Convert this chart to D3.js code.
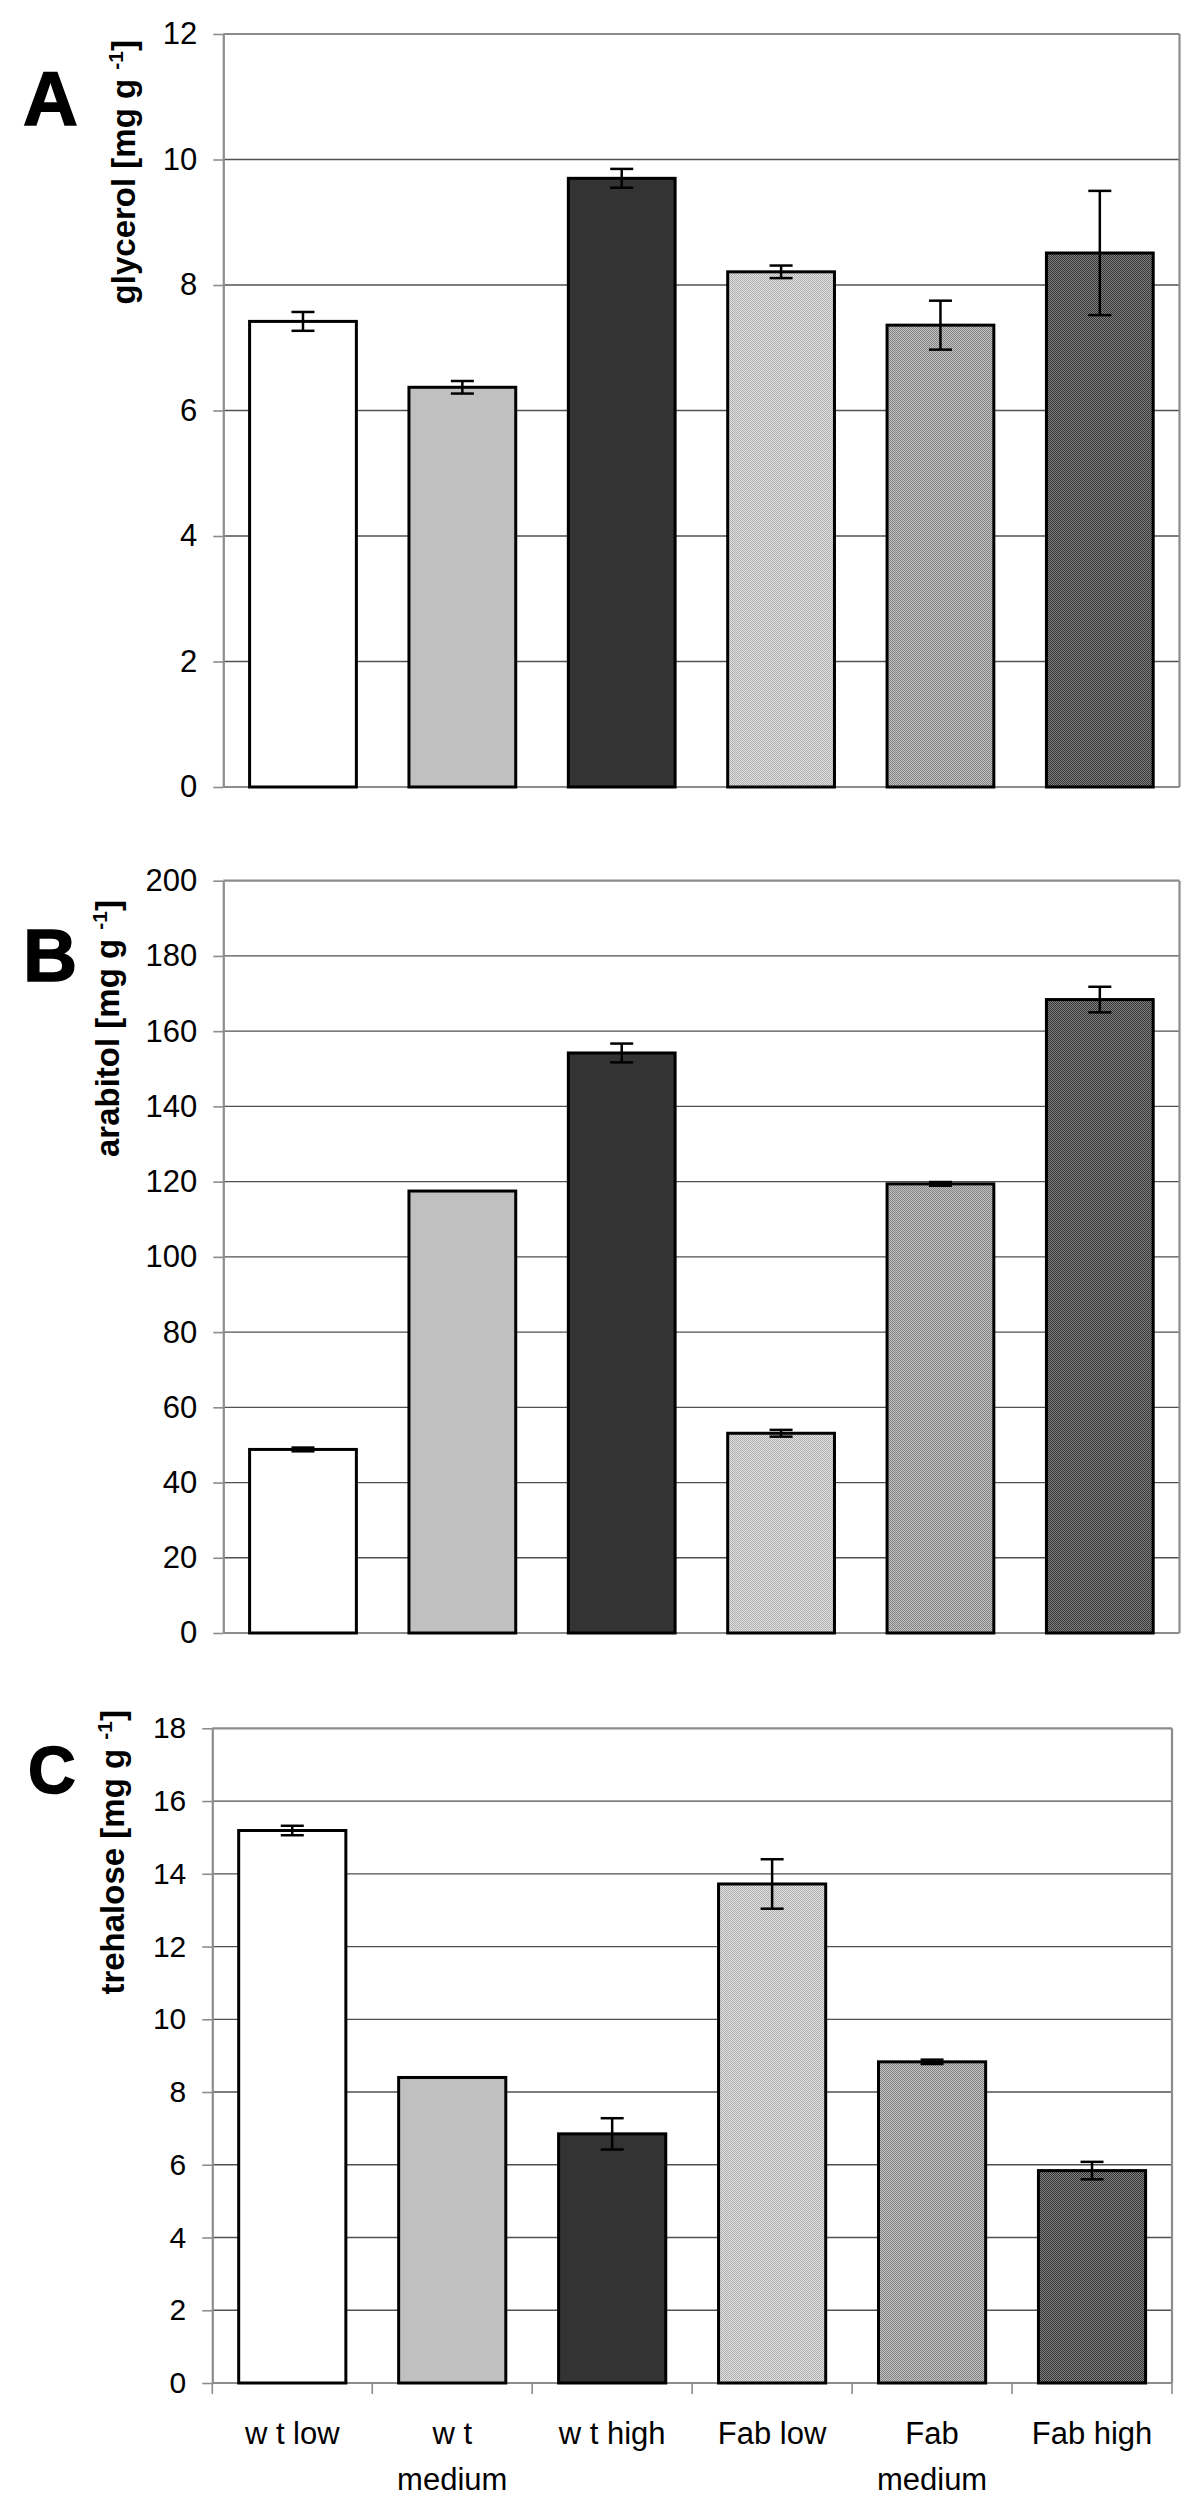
<!DOCTYPE html>
<html>
<head>
<meta charset="utf-8">
<script src="https://cdn.jsdelivr.net/npm/d3@7/dist/d3.min.js"></script>
<style>
  html, body { margin: 0; padding: 0; background: #fff; }
  svg { display: block; }
  text { font-family: "Liberation Sans", Arial, Helvetica, sans-serif; fill: #000; }
</style>
</head>
<body>
<script>
// ---------- data ----------
const categories = ["w t low", "w t medium", "w t high", "Fab low", "Fab medium", "Fab high"];
const categoryLabelLines = [["w t low"], ["w t", "medium"], ["w t high"], ["Fab low"], ["Fab", "medium"], ["Fab high"]];

const glycerol = [7.42, 6.37, 9.70, 8.21, 7.36, 8.51];
const glycerolErr = [0.15, 0.10, 0.15, 0.10, 0.39, 0.99];
const glycerolTicks = [0, 2, 4, 6, 8, 10, 12];

const arabitol = [48.8, 117.5, 154.2, 53.1, 119.4, 168.4];
const arabitolErr = [0.5, 0, 2.5, 0.9, 0.5, 3.4];
const arabitolTicks = [0, 20, 40, 60, 80, 100, 120, 140, 160, 180, 200];

const trehalose = [15.19, 8.40, 6.85, 13.72, 8.83, 5.84];
const trehaloseErr = [0.13, 0, 0.43, 0.68, 0.06, 0.24];
const trehaloseTicks = [0, 2, 4, 6, 8, 10, 12, 14, 16, 18];

const panelLetters = ["A", "B", "C"];
const axisTitles = ["glycerol", "arabitol", "trehalose"];

// ---------- styling / layout ----------
const fills = ["#ffffff", "#c0c0c0", "#333333", "url(#patLow)", "url(#patMed)", "url(#patHigh)"];

const svg = d3.select("body").append("svg")
  .attr("width", 1200).attr("height", 2519)
  .style("background", "#fff");

const defs = svg.append("defs");
function checker(id, a, b) {
  const p = defs.append("pattern").attr("id", id)
    .attr("width", 2).attr("height", 2).attr("patternUnits", "userSpaceOnUse");
  p.append("rect").attr("width", 2).attr("height", 2).attr("fill", a);
  p.append("rect").attr("x", 0).attr("y", 0).attr("width", 1).attr("height", 1).attr("fill", b);
  p.append("rect").attr("x", 1).attr("y", 1).attr("width", 1).attr("height", 1).attr("fill", b);
}
checker("patLow", "#e0e0e0", "#b0b0b0");
checker("patMed", "#c0c0c0", "#848484");
checker("patHigh", "#808080", "#363636");

const layout = [
  { values: glycerol, errs: glycerolErr, ticks: glycerolTicks,
    x0: 223.3, x1: 1179.5, y0: 34, y1: 787,
    letterX: 23, letterY: 125, letterSize: 76,
    titleX: 135, titleEnd: 40, tickFont: 31, xLabels: false },
  { values: arabitol, errs: arabitolErr, ticks: arabitolTicks,
    x0: 223.3, x1: 1179.5, y0: 880.7, y1: 1633,
    letterX: 23, letterY: 981, letterSize: 75,
    titleX: 119, titleEnd: 900, tickFont: 31, xLabels: false },
  { values: trehalose, errs: trehaloseErr, ticks: trehaloseTicks,
    x0: 212.3, x1: 1172, y0: 1728.3, y1: 2383,
    letterX: 28, letterY: 1793, letterSize: 66,
    titleX: 124, titleEnd: 1710, tickFont: 30, xLabels: true }
];

const frameColor = "#8c8c8c";

layout.forEach((L, pi) => {
  const g = svg.append("g");
  const x = d3.scaleBand().domain(categories).range([L.x0, L.x1])
    .paddingInner(0.33).paddingOuter(0.165);
  const y = d3.scaleLinear().domain([0, d3.max(L.ticks)]).range([L.y1, L.y0]);

  // gridlines
  g.append("g").selectAll("line")
    .data(L.ticks.filter(t => t > 0 && t < d3.max(L.ticks)))
    .join("line")
    .attr("x1", L.x0).attr("x2", L.x1)
    .attr("y1", d => y(d)).attr("y2", d => y(d))
    .attr("stroke", "#505050").attr("stroke-width", 1.3);

  // frame (top + right) and bottom axis line
  g.append("line").attr("x1", L.x0).attr("x2", L.x1)
    .attr("y1", y(d3.max(L.ticks))).attr("y2", y(d3.max(L.ticks)))
    .attr("stroke", frameColor).attr("stroke-width", 2.2);
  g.append("line").attr("x1", L.x1).attr("x2", L.x1)
    .attr("y1", L.y0).attr("y2", L.y1)
    .attr("stroke", frameColor).attr("stroke-width", 2.2);
  g.append("line").attr("x1", L.x0).attr("x2", L.x1)
    .attr("y1", L.y1).attr("y2", L.y1)
    .attr("stroke", frameColor).attr("stroke-width", 2.2);

  const data = categories.map((c, i) => ({ c, v: L.values[i], e: L.errs[i], fill: fills[i] }));

  // left axis
  const ax = g.append("g").attr("transform", `translate(${L.x0},0)`)
    .call(d3.axisLeft(y).tickValues(L.ticks).tickSize(10).tickSizeOuter(0).tickPadding(16).tickFormat(d3.format("d")));
  ax.select(".domain").attr("stroke", frameColor).attr("stroke-width", 2.2);
  ax.selectAll(".tick line").attr("stroke", frameColor).attr("stroke-width", 1.6);
  ax.selectAll(".tick text").attr("font-size", L.tickFont)
    .attr("font-family", '"Liberation Sans", Arial, sans-serif').attr("fill", "#000");

  // bars
  g.append("g").selectAll("rect").data(data).join("rect")
    .attr("x", d => x(d.c)).attr("y", d => y(d.v))
    .attr("width", x.bandwidth()).attr("height", d => y(0) - y(d.v))
    .attr("fill", d => d.fill)
    .attr("stroke", "#000").attr("stroke-width", 3);

  // error bars
  const eb = g.append("g").selectAll("g").data(data.filter(d => d.e > 0)).join("g");
  const capW = 23;
  const cx = d => x(d.c) + x.bandwidth() / 2;
  eb.append("line")
    .attr("x1", cx).attr("x2", cx)
    .attr("y1", d => y(d.v + d.e)).attr("y2", d => y(d.v - d.e))
    .attr("stroke", "#000").attr("stroke-width", 2.5);
  eb.append("line")
    .attr("x1", d => cx(d) - capW / 2).attr("x2", d => cx(d) + capW / 2)
    .attr("y1", d => y(d.v + d.e)).attr("y2", d => y(d.v + d.e))
    .attr("stroke", "#000").attr("stroke-width", 2.5);
  eb.append("line")
    .attr("x1", d => cx(d) - capW / 2).attr("x2", d => cx(d) + capW / 2)
    .attr("y1", d => y(d.v - d.e)).attr("y2", d => y(d.v - d.e))
    .attr("stroke", "#000").attr("stroke-width", 2.5);

  if (L.xLabels) {
    const half = (x.step() - x.bandwidth()) / 2;
    const bounds = categories.map(c => x(c) - half).concat([L.x1]);
    g.append("g").selectAll("line").data(bounds).join("line")
      .attr("x1", d => d).attr("x2", d => d)
      .attr("y1", L.y1).attr("y2", L.y1 + 11)
      .attr("stroke", frameColor).attr("stroke-width", 1.6);
    const lab = g.append("g").selectAll("text").data(categories).join("text")
      .attr("text-anchor", "middle")
      .attr("font-size", 31)
      .attr("x", c => x(c) + x.bandwidth() / 2)
      .attr("y", L.y1 + 61);
    lab.selectAll("tspan").data((c, i) => categoryLabelLines[i]).join("tspan")
      .attr("x", function () { return d3.select(this.parentNode).attr("x"); })
      .attr("dy", (d, j) => j === 0 ? 0 : 45.7)
      .text(d => d);
  }

  // panel letter
  svg.append("text").attr("x", L.letterX).attr("y", L.letterY)
    .attr("font-size", L.letterSize).attr("font-weight", "bold")
    .attr("stroke", "#000").attr("stroke-width", 1.5)
    .text(panelLetters[pi]);

  // y-axis title
  const t = svg.append("text")
    .attr("transform", `translate(${L.titleX},${L.titleEnd}) rotate(-90)`)
    .attr("text-anchor", "end")
    .attr("font-size", 33).attr("font-weight", "bold");
  t.append("tspan").text(axisTitles[pi] + " [mg g ");
  t.append("tspan").attr("font-size", 21).attr("dy", -12).text("-1");
  t.append("tspan").attr("dy", 12).text("]");
});
</script>
</body>
</html>
